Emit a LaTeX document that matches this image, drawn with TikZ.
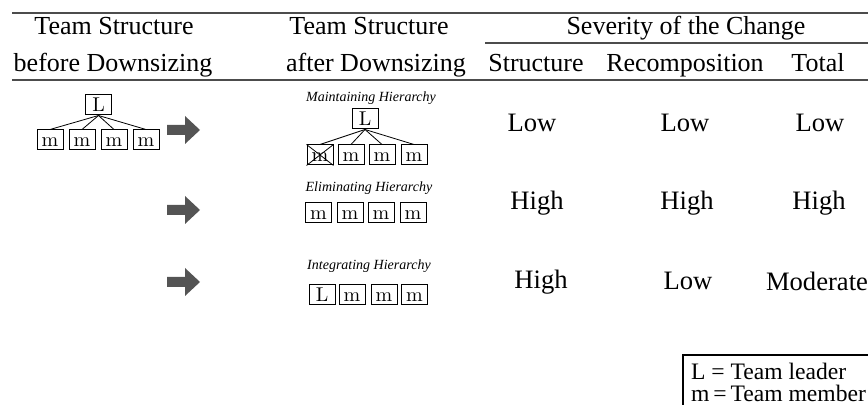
\documentclass[tikz,border=0pt]{standalone}
\usepackage{fontspec}
\setmainfont{Liberation Serif}
\newfontfamily\boxfont{Latin Modern Roman}
\usepackage{tikz}

\begin{document}
\begin{tikzpicture}[x=0.5pt,y=-0.5pt,
   rule/.style={black!70,line width=0.6pt},
   hd/.style={font=\fontsize{13}{15}\selectfont,anchor=base},
   val/.style={font=\fontsize{13.3}{15}\selectfont,anchor=base},
   capt/.style={font=\fontsize{7}{8}\selectfont\itshape},
   key/.style={font=\fontsize{11.8}{14}\selectfont,anchor=base west},
   mbox/.style={draw,line width=0.5pt,minimum width=13pt,minimum height=10pt,
                inner sep=0pt,text height=6.5pt,text depth=0pt,
                font=\boxfont\fontsize{10}{11}\selectfont},
   tie/.style={line width=0.4pt},
   fatarrow/.style={fill=black!67}]
  \useasboundingbox (0,0) rectangle (868,405);

  % table rules
  \draw[rule] (12,13) -- (868,13);
  \draw[rule] (485,43) -- (868,43);
  \draw[rule] (12,80) -- (868,80);

  % column heads
  \node[hd] (h1a) at (114,35) {Team Structure};
  \node[hd] (h1b) at (113,72) {before Downsizing};
  \node[hd] (h2a) at (369,35) {Team Structure};
  \node[hd] (h2b) at (376,72) {after Downsizing};
  \node[hd] (h3) at (686,35) {Severity of the Change};
  \node[hd] (s1) at (536,72) {Structure};
  \node[hd] (s2) at (685,72) {Recomposition};
  \node[hd] (s3) at (818,72) {Total};

  % team before downsizing
  \node[mbox] (L0) at (98.5,105) {L};
  \foreach \i/\x in {1/50,2/82,3/114,4/146}{
    \node[mbox] (a\i) at (\x,140) {m};
    \draw[tie] (L0.south) -- (a\i.north);
  }

  % arrows
  \foreach \y in {130,210,282}
    \fill[fatarrow] (167,\y) ++(0,5) -- ++(18,0) -- ++(0,9) -- ++(15,-14)
       -- ++(-15,-14) -- ++(0,9) -- ++(-18,0) -- cycle;

  % maintaining hierarchy
  \node[capt] (c1) at (371,98) {Maintaining Hierarchy};
  \node[mbox] (L1) at (365,119) {L};
  \foreach \i/\x in {1/320,2/351,3/382,4/414}{
    \node[mbox] (b\i) at (\x,155) {m};
    \draw[tie] (L1.south) -- (b\i.north);
  }
  \draw[tie] (b1.north west) -- (b1.south east);
  \draw[tie] (b1.south west) -- (b1.north east);

  % eliminating hierarchy
  \node[capt] (c2) at (369,188) {Eliminating Hierarchy};
  \foreach \i/\x in {1/318.5,2/350,3/381,4/413}
    \node[mbox] (e\i) at (\x,213) {m};

  % integrating hierarchy
  \node[capt] (c3) at (369,266) {Integrating Hierarchy};
  \node[mbox] (d1) at (322,295) {L};
  \foreach \i/\x in {2/352,3/384,4/414.5}
    \node[mbox] (d\i) at (\x,295) {m};

  % severity values
  \node[val] (v11) at (532,132) {Low};
  \node[val] (v12) at (685,132) {Low};
  \node[val] (v13) at (820,132) {Low};
  \node[val] (v21) at (537,210) {High};
  \node[val] (v22) at (687,210) {High};
  \node[val] (v23) at (819,210) {High};
  \node[val] (v31) at (541,289) {High};
  \node[val] (v32) at (688,290) {Low};
  \node[val] (v33) at (817,291) {Moderate};

  % legend
  \draw[line width=0.6pt] (868,355) -- (683,355) -- (683,405);
  \node[key] (k1) at (684,380) {L = Team leader};
  \node[key] (k2) at (684,402) {m\,=\,Team member};
\end{tikzpicture}
\end{document}
